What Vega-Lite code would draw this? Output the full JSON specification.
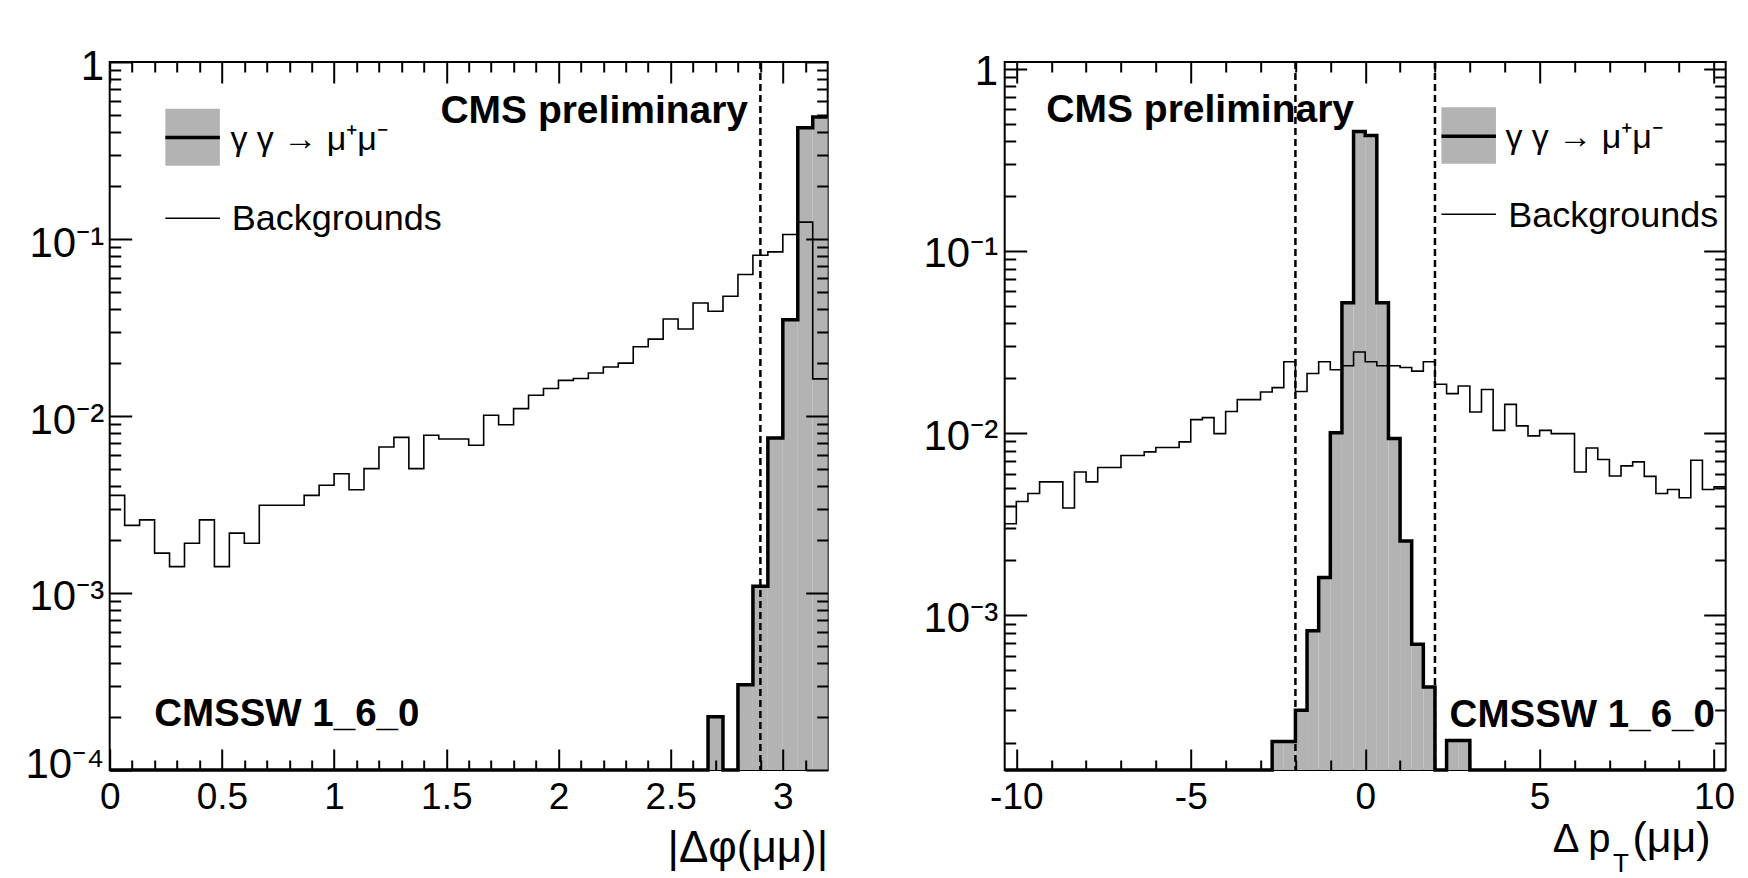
{
  "$schema": "https://vega.github.io/schema/vega-lite/v6.json",
  "background": "white",
  "padding": {"left": 8.7, "top": 44, "right": 10, "bottom": 4},
  "bounds": "flush",
  "spacing": 177,
  "config": {
    "view": {"stroke": "black", "strokeWidth": 2},
    "axis": {"labelFont": "Liberation Sans", "titleFont": "Liberation Sans", "labelColor": "black", "titleColor": "black", "tickColor": "black", "tickWidth": 2, "domain": false, "grid": false},
    "text": {"font": "Liberation Sans"}
  },
  "datasets": {
    "dphi": [
      {"lo": 0, "hi": 0.0667, "sig": 0, "bkg": 0.00356},
      {"lo": 0.0667, "hi": 0.1333, "sig": 0, "bkg": 0.00241},
      {"lo": 0.1333, "hi": 0.2, "sig": 0, "bkg": 0.00259},
      {"lo": 0.2, "hi": 0.2667, "sig": 0, "bkg": 0.00168},
      {"lo": 0.2667, "hi": 0.3333, "sig": 0, "bkg": 0.00141},
      {"lo": 0.3333, "hi": 0.4, "sig": 0, "bkg": 0.00191},
      {"lo": 0.4, "hi": 0.4667, "sig": 0, "bkg": 0.00259},
      {"lo": 0.4667, "hi": 0.5333, "sig": 0, "bkg": 0.00141},
      {"lo": 0.5333, "hi": 0.6, "sig": 0, "bkg": 0.00218},
      {"lo": 0.6, "hi": 0.6667, "sig": 0, "bkg": 0.00191},
      {"lo": 0.6667, "hi": 0.7333, "sig": 0, "bkg": 0.00313},
      {"lo": 0.7333, "hi": 0.8, "sig": 0, "bkg": 0.00313},
      {"lo": 0.8, "hi": 0.8667, "sig": 0, "bkg": 0.00313},
      {"lo": 0.8667, "hi": 0.9333, "sig": 0, "bkg": 0.00356},
      {"lo": 0.9333, "hi": 1, "sig": 0, "bkg": 0.00406},
      {"lo": 1, "hi": 1.0667, "sig": 0, "bkg": 0.00472},
      {"lo": 1.0667, "hi": 1.1333, "sig": 0, "bkg": 0.00383},
      {"lo": 1.1333, "hi": 1.2, "sig": 0, "bkg": 0.00504},
      {"lo": 1.2, "hi": 1.2667, "sig": 0, "bkg": 0.00668},
      {"lo": 1.2667, "hi": 1.3333, "sig": 0, "bkg": 0.00757},
      {"lo": 1.3333, "hi": 1.4, "sig": 0, "bkg": 0.00504},
      {"lo": 1.4, "hi": 1.4667, "sig": 0, "bkg": 0.00778},
      {"lo": 1.4667, "hi": 1.5333, "sig": 0, "bkg": 0.00741},
      {"lo": 1.5333, "hi": 1.6, "sig": 0, "bkg": 0.00741},
      {"lo": 1.6, "hi": 1.6667, "sig": 0, "bkg": 0.00683},
      {"lo": 1.6667, "hi": 1.7333, "sig": 0, "bkg": 0.0101},
      {"lo": 1.7333, "hi": 1.8, "sig": 0, "bkg": 0.00893},
      {"lo": 1.8, "hi": 1.8667, "sig": 0, "bkg": 0.011},
      {"lo": 1.8667, "hi": 1.9333, "sig": 0, "bkg": 0.0131},
      {"lo": 1.9333, "hi": 2, "sig": 0, "bkg": 0.0143},
      {"lo": 2, "hi": 2.0667, "sig": 0, "bkg": 0.0159},
      {"lo": 2.0667, "hi": 2.1333, "sig": 0, "bkg": 0.0163},
      {"lo": 2.1333, "hi": 2.2, "sig": 0, "bkg": 0.0175},
      {"lo": 2.2, "hi": 2.2667, "sig": 0, "bkg": 0.0189},
      {"lo": 2.2667, "hi": 2.3333, "sig": 0, "bkg": 0.0199},
      {"lo": 2.3333, "hi": 2.4, "sig": 0, "bkg": 0.0246},
      {"lo": 2.4, "hi": 2.4667, "sig": 0, "bkg": 0.0272},
      {"lo": 2.4667, "hi": 2.5333, "sig": 0, "bkg": 0.0353},
      {"lo": 2.5333, "hi": 2.6, "sig": 0, "bkg": 0.031},
      {"lo": 2.6, "hi": 2.6667, "sig": 0, "bkg": 0.0435},
      {"lo": 2.6667, "hi": 2.7333, "sig": 0.0002, "bkg": 0.0391},
      {"lo": 2.7333, "hi": 2.8, "sig": 0, "bkg": 0.0475},
      {"lo": 2.8, "hi": 2.8667, "sig": 0.000303, "bkg": 0.063},
      {"lo": 2.8667, "hi": 2.9333, "sig": 0.00109, "bkg": 0.081},
      {"lo": 2.9333, "hi": 3, "sig": 0.00751, "bkg": 0.0846},
      {"lo": 3, "hi": 3.0667, "sig": 0.035, "bkg": 0.106},
      {"lo": 3.0667, "hi": 3.1333, "sig": 0.425, "bkg": 0.1245},
      {"lo": 3.1333, "hi": 3.2, "sig": 0.489, "bkg": 0.0162}
    ],
    "dpt": [
      {"lo": -10.3333, "hi": -10, "sig": 0, "bkg": 0.00318},
      {"lo": -10, "hi": -9.6667, "sig": 0, "bkg": 0.00421},
      {"lo": -9.6667, "hi": -9.3333, "sig": 0, "bkg": 0.00466},
      {"lo": -9.3333, "hi": -9, "sig": 0, "bkg": 0.0054},
      {"lo": -9, "hi": -8.6667, "sig": 0, "bkg": 0.0054},
      {"lo": -8.6667, "hi": -8.3333, "sig": 0, "bkg": 0.00388},
      {"lo": -8.3333, "hi": -8, "sig": 0, "bkg": 0.00612},
      {"lo": -8, "hi": -7.6667, "sig": 0, "bkg": 0.0054},
      {"lo": -7.6667, "hi": -7.3333, "sig": 0, "bkg": 0.00647},
      {"lo": -7.3333, "hi": -7, "sig": 0, "bkg": 0.00647},
      {"lo": -7, "hi": -6.6667, "sig": 0, "bkg": 0.00753},
      {"lo": -6.6667, "hi": -6.3333, "sig": 0, "bkg": 0.00753},
      {"lo": -6.3333, "hi": -6, "sig": 0, "bkg": 0.00789},
      {"lo": -6, "hi": -5.6667, "sig": 0, "bkg": 0.00833},
      {"lo": -5.6667, "hi": -5.3333, "sig": 0, "bkg": 0.00833},
      {"lo": -5.3333, "hi": -5, "sig": 0, "bkg": 0.00895},
      {"lo": -5, "hi": -4.6667, "sig": 0, "bkg": 0.01186},
      {"lo": -4.6667, "hi": -4.3333, "sig": 0, "bkg": 0.01216},
      {"lo": -4.3333, "hi": -4, "sig": 0, "bkg": 0.00994},
      {"lo": -4, "hi": -3.6667, "sig": 0, "bkg": 0.01313},
      {"lo": -3.6667, "hi": -3.3333, "sig": 0, "bkg": 0.01527},
      {"lo": -3.3333, "hi": -3, "sig": 0, "bkg": 0.01527},
      {"lo": -3, "hi": -2.6667, "sig": 0, "bkg": 0.01683},
      {"lo": -2.6667, "hi": -2.3333, "sig": 0.000203, "bkg": 0.01777},
      {"lo": -2.3333, "hi": -2, "sig": 0.000203, "bkg": 0.02467},
      {"lo": -2, "hi": -1.6667, "sig": 0.000301, "bkg": 0.01691},
      {"lo": -1.6667, "hi": -1.3333, "sig": 0.000821, "bkg": 0.02123},
      {"lo": -1.3333, "hi": -1, "sig": 0.00161, "bkg": 0.02467},
      {"lo": -1, "hi": -0.6667, "sig": 0.01006, "bkg": 0.02229},
      {"lo": -0.6667, "hi": -0.3333, "sig": 0.0519, "bkg": 0.02344},
      {"lo": -0.3333, "hi": 0, "sig": 0.453, "bkg": 0.02789},
      {"lo": 0, "hi": 0.3333, "sig": 0.431, "bkg": 0.02467},
      {"lo": 0.3333, "hi": 0.6667, "sig": 0.0519, "bkg": 0.02344},
      {"lo": 0.6667, "hi": 1, "sig": 0.00933, "bkg": 0.02344},
      {"lo": 1, "hi": 1.3333, "sig": 0.00256, "bkg": 0.0229},
      {"lo": 1.3333, "hi": 1.6667, "sig": 0.000693, "bkg": 0.0219},
      {"lo": 1.6667, "hi": 2, "sig": 0.000404, "bkg": 0.02467},
      {"lo": 2, "hi": 2.3333, "sig": 0, "bkg": 0.01853},
      {"lo": 2.3333, "hi": 2.6667, "sig": 0.000205, "bkg": 0.01647},
      {"lo": 2.6667, "hi": 3, "sig": 0.000205, "bkg": 0.01815},
      {"lo": 3, "hi": 3.3333, "sig": 0, "bkg": 0.01306},
      {"lo": 3.3333, "hi": 3.6667, "sig": 0, "bkg": 0.01734},
      {"lo": 3.6667, "hi": 4, "sig": 0, "bkg": 0.01035},
      {"lo": 4, "hi": 4.3333, "sig": 0, "bkg": 0.01438},
      {"lo": 4.3333, "hi": 4.6667, "sig": 0, "bkg": 0.01096},
      {"lo": 4.6667, "hi": 5, "sig": 0, "bkg": 0.00966},
      {"lo": 5, "hi": 5.3333, "sig": 0, "bkg": 0.01035},
      {"lo": 5.3333, "hi": 5.6667, "sig": 0, "bkg": 0.00994},
      {"lo": 5.6667, "hi": 6, "sig": 0, "bkg": 0.00994},
      {"lo": 6, "hi": 6.3333, "sig": 0, "bkg": 0.00612},
      {"lo": 6.3333, "hi": 6.6667, "sig": 0, "bkg": 0.00829},
      {"lo": 6.6667, "hi": 7, "sig": 0, "bkg": 0.00716},
      {"lo": 7, "hi": 7.3333, "sig": 0, "bkg": 0.00582},
      {"lo": 7.3333, "hi": 7.6667, "sig": 0, "bkg": 0.00661},
      {"lo": 7.6667, "hi": 8, "sig": 0, "bkg": 0.00695},
      {"lo": 8, "hi": 8.3333, "sig": 0, "bkg": 0.00579},
      {"lo": 8.3333, "hi": 8.6667, "sig": 0, "bkg": 0.00466},
      {"lo": 8.6667, "hi": 9, "sig": 0, "bkg": 0.0049},
      {"lo": 9, "hi": 9.3333, "sig": 0, "bkg": 0.00442},
      {"lo": 9.3333, "hi": 9.6667, "sig": 0, "bkg": 0.0071},
      {"lo": 9.6667, "hi": 10, "sig": 0, "bkg": 0.0049},
      {"lo": 10, "hi": 10.3333, "sig": 0, "bkg": 0.00507}
    ]
  },
  "hconcat": [
    {
      "width": 718,
      "height": 708,
      "resolve": {"axis": {"x": "independent", "y": "independent"}},
      "layer": [
        {
          "data": {"name": "dphi"},
          "transform": [{"filter": "datum.sig > 0"}],
          "mark": {"type": "rect", "fill": "#b3b3b3"},
          "encoding": {
            "x": {"field": "lo", "type": "quantitative", "scale": {"domain": [0, 3.2], "nice": false, "zero": false},
              "axis": {"orient": "bottom", "values": [0, 0.1, 0.2, 0.3, 0.4, 0.5, 0.6, 0.7, 0.8, 0.9, 1, 1.1, 1.2, 1.3, 1.4, 1.5, 1.6, 1.7, 1.8, 1.9, 2, 2.1, 2.2, 2.3, 2.4, 2.5, 2.6, 2.7, 2.8, 2.9, 3, 3.1],
                "labelExpr": "indexof([0, 0.5, 1, 1.5, 2, 2.5, 3], datum.value) >= 0 ? '' + datum.value : ''",
                "tickSize": {"condition": {"test": "indexof([0, 0.5, 1, 1.5, 2, 2.5, 3], datum.value) >= 0", "value": -21}, "value": -10},
                "labelFontSize": 37, "labelPadding": 31, "labelOverlap": false, "labelFlush": false, "labelBound": false,
                "title": "|Δφ(μμ)|", "titleAnchor": "end", "titleAlign": "right", "titleFontSize": 44, "titleFontWeight": "normal", "titlePadding": 0, "zindex": 1}},
            "x2": {"field": "hi"},
            "y": {"field": "sig", "type": "quantitative", "scale": {"type": "log", "domain": [0.0001, 1], "nice": false, "clamp": true},
              "axis": {"orient": "left", "values": [0.0001, 0.0002, 0.0003, 0.0004, 0.0005, 0.0006, 0.0007, 0.0008, 0.0009, 0.001, 0.002, 0.003, 0.004, 0.005, 0.006, 0.007, 0.008, 0.009, 0.01, 0.02, 0.03, 0.04, 0.05, 0.06, 0.07, 0.08, 0.09, 0.1, 0.2, 0.3, 0.4, 0.5, 0.6, 0.7, 0.8, 0.9, 1],
                "labelExpr": "datum.value == 1 ? '1' : datum.value == 0.1 ? '10⁻¹' : datum.value == 0.01 ? '10⁻²' : datum.value == 0.001 ? '10⁻³' : datum.value == 0.0001 ? '10⁻⁴' : ''",
                "tickSize": {"condition": {"test": "indexof([1, 0.1, 0.01, 0.001, 0.0001], datum.value) >= 0", "value": -22}, "value": -11},
                "labelFontSize": 42, "labelPadding": 28,
                "labelOffset": {"condition": {"test": "datum.value == 0.0001", "value": -5}, "value": 4},
                "labelOverlap": false, "labelFlush": false, "labelBound": false,
                "minExtent": 100, "maxExtent": 100, "title": null, "zindex": 1}},
            "y2": {"datum": 0.0001}
          }
        },
        {
          "data": {"name": "dphi"},
          "transform": [{"fold": ["lo", "hi"], "as": ["edge", "xpos"]}],
          "mark": {"type": "line", "stroke": "black", "strokeWidth": 1.6},
          "encoding": {
            "x": {"field": "xpos", "type": "quantitative",
              "axis": {"orient": "top", "values": [0, 0.1, 0.2, 0.3, 0.4, 0.5, 0.6, 0.7, 0.8, 0.9, 1, 1.1, 1.2, 1.3, 1.4, 1.5, 1.6, 1.7, 1.8, 1.9, 2, 2.1, 2.2, 2.3, 2.4, 2.5, 2.6, 2.7, 2.8, 2.9, 3, 3.1],
                "labels": false, "title": null, "minExtent": 0, "maxExtent": 0, "zindex": 1,
                "tickSize": {"condition": {"test": "indexof([0, 0.5, 1, 1.5, 2, 2.5, 3], datum.value) >= 0", "value": -21}, "value": -10}}},
            "y": {"field": "bkg", "type": "quantitative",
              "axis": {"orient": "right", "values": [0.0001, 0.0002, 0.0003, 0.0004, 0.0005, 0.0006, 0.0007, 0.0008, 0.0009, 0.001, 0.002, 0.003, 0.004, 0.005, 0.006, 0.007, 0.008, 0.009, 0.01, 0.02, 0.03, 0.04, 0.05, 0.06, 0.07, 0.08, 0.09, 0.1, 0.2, 0.3, 0.4, 0.5, 0.6, 0.7, 0.8, 0.9, 1],
                "labels": false, "title": null, "minExtent": 0, "maxExtent": 0, "zindex": 1,
                "tickSize": {"condition": {"test": "indexof([1, 0.1, 0.01, 0.001, 0.0001], datum.value) >= 0", "value": -22}, "value": -11}}},
            "order": [{"field": "xpos", "type": "quantitative"}, {"field": "edge", "type": "nominal"}]
          }
        },
        {
          "data": {"name": "dphi"},
          "transform": [{"fold": ["lo", "hi"], "as": ["edge", "xpos"]}],
          "mark": {"type": "line", "stroke": "black", "strokeWidth": 3.5, "invalid": null},
          "encoding": {
            "x": {"field": "xpos", "type": "quantitative", "axis": null},
            "y": {"field": "sig", "type": "quantitative", "axis": null},
            "order": [{"field": "xpos", "type": "quantitative"}, {"field": "edge", "type": "nominal"}]
          }
        },
        {
          "data": {"values": [{}]},
          "mark": {"type": "rule", "stroke": "black", "strokeWidth": 2.5, "strokeDash": [7, 4]},
          "encoding": {"x": {"datum": 2.9, "type": "quantitative", "axis": null}}
        },
        {
          "data": {"values": [{}]},
          "mark": {"type": "rect", "fill": "#b3b3b3"},
          "encoding": {
            "x": {"datum": 0.248, "type": "quantitative", "axis": null}, "x2": {"datum": 0.491},
            "y": {"datum": 0.544, "type": "quantitative", "axis": null}, "y2": {"datum": 0.259}
          }
        },
        {
          "data": {"values": [{}]},
          "mark": {"type": "rule", "stroke": "black", "strokeWidth": 3.5},
          "encoding": {
            "x": {"datum": 0.248, "type": "quantitative", "axis": null}, "x2": {"datum": 0.491},
            "y": {"datum": 0.375, "type": "quantitative", "axis": null}
          }
        },
        {
          "data": {"values": [{}]},
          "mark": {"type": "rule", "stroke": "black", "strokeWidth": 1.6},
          "encoding": {
            "x": {"datum": 0.248, "type": "quantitative", "axis": null}, "x2": {"datum": 0.491},
            "y": {"datum": 0.131, "type": "quantitative", "axis": null}
          }
        },
        {
          "data": {"values": [{}]},
          "mark": {"type": "text", "text": "γ γ → μ⁺μ⁻", "fontSize": 34, "align": "left", "baseline": "alphabetic", "fill": "black"},
          "encoding": {"x": {"datum": 0.538, "type": "quantitative", "axis": null}, "y": {"datum": 0.318, "type": "quantitative", "axis": null}}
        },
        {
          "data": {"values": [{}]},
          "mark": {"type": "text", "text": "Backgrounds", "fontSize": 36, "align": "left", "baseline": "alphabetic", "fill": "black"},
          "encoding": {"x": {"datum": 0.544, "type": "quantitative", "axis": null}, "y": {"datum": 0.1126, "type": "quantitative", "axis": null}}
        },
        {
          "data": {"values": [{}]},
          "mark": {"type": "text", "text": "CMS preliminary", "fontSize": 39, "fontWeight": "bold", "align": "left", "baseline": "alphabetic", "fill": "black"},
          "encoding": {"x": {"datum": 1.474, "type": "quantitative", "axis": null}, "y": {"datum": 0.452, "type": "quantitative", "axis": null}}
        },
        {
          "data": {"values": [{}]},
          "mark": {"type": "text", "text": "CMSSW 1_6_0", "fontSize": 38.5, "fontWeight": "bold", "align": "left", "baseline": "alphabetic", "fill": "black"},
          "encoding": {"x": {"datum": 0.198, "type": "quantitative", "axis": null}, "y": {"datum": 0.0001766, "type": "quantitative", "axis": null}}
        }
      ]
    },
    {
      "width": 721,
      "height": 708,
      "resolve": {"axis": {"x": "independent", "y": "independent"}},
      "layer": [
        {
          "data": {"name": "dpt"},
          "transform": [{"filter": "datum.sig > 0"}],
          "mark": {"type": "rect", "fill": "#b3b3b3"},
          "encoding": {
            "x": {"field": "lo", "type": "quantitative", "scale": {"domain": [-10.3333, 10.3333], "nice": false, "zero": false},
              "axis": {"orient": "bottom", "values": [-10, -9, -8, -7, -6, -5, -4, -3, -2, -1, 0, 1, 2, 3, 4, 5, 6, 7, 8, 9, 10],
                "labelExpr": "indexof([-10, -5, 0, 5, 10], datum.value) >= 0 ? '' + datum.value : ''",
                "tickSize": {"condition": {"test": "indexof([-10, -5, 0, 5, 10], datum.value) >= 0", "value": -21}, "value": -10},
                "labelFontSize": 37, "labelPadding": 31, "labelOverlap": false, "labelFlush": false, "labelBound": false,
                "title": null, "zindex": 1}},
            "x2": {"field": "hi"},
            "y": {"field": "sig", "type": "quantitative", "scale": {"type": "log", "domain": [0.0001414, 1.09], "nice": false, "clamp": true},
              "axis": {"orient": "left", "values": [0.0002, 0.0003, 0.0004, 0.0005, 0.0006, 0.0007, 0.0008, 0.0009, 0.001, 0.002, 0.003, 0.004, 0.005, 0.006, 0.007, 0.008, 0.009, 0.01, 0.02, 0.03, 0.04, 0.05, 0.06, 0.07, 0.08, 0.09, 0.1, 0.2, 0.3, 0.4, 0.5, 0.6, 0.7, 0.8, 0.9, 1],
                "labelExpr": "datum.value == 1 ? '1' : datum.value == 0.1 ? '10⁻¹' : datum.value == 0.01 ? '10⁻²' : datum.value == 0.001 ? '10⁻³' : ''",
                "tickSize": {"condition": {"test": "indexof([1, 0.1, 0.01, 0.001], datum.value) >= 0", "value": -22}, "value": -11},
                "labelFontSize": 42, "labelPadding": 29, "labelOffset": 3, "labelOverlap": false, "labelFlush": false, "labelBound": false,
                "minExtent": 100, "maxExtent": 100, "title": null, "zindex": 1}},
            "y2": {"datum": 0.0001414}
          }
        },
        {
          "data": {"name": "dpt"},
          "transform": [{"fold": ["lo", "hi"], "as": ["edge", "xpos"]}],
          "mark": {"type": "line", "stroke": "black", "strokeWidth": 1.6},
          "encoding": {
            "x": {"field": "xpos", "type": "quantitative",
              "axis": {"orient": "top", "values": [-10, -9, -8, -7, -6, -5, -4, -3, -2, -1, 0, 1, 2, 3, 4, 5, 6, 7, 8, 9, 10],
                "labels": false, "title": null, "minExtent": 0, "maxExtent": 0, "zindex": 1,
                "tickSize": {"condition": {"test": "indexof([-10, -5, 0, 5, 10], datum.value) >= 0", "value": -21}, "value": -10}}},
            "y": {"field": "bkg", "type": "quantitative",
              "axis": {"orient": "right", "values": [0.0002, 0.0003, 0.0004, 0.0005, 0.0006, 0.0007, 0.0008, 0.0009, 0.001, 0.002, 0.003, 0.004, 0.005, 0.006, 0.007, 0.008, 0.009, 0.01, 0.02, 0.03, 0.04, 0.05, 0.06, 0.07, 0.08, 0.09, 0.1, 0.2, 0.3, 0.4, 0.5, 0.6, 0.7, 0.8, 0.9, 1],
                "labels": false, "title": null, "minExtent": 0, "maxExtent": 0, "zindex": 1,
                "tickSize": {"condition": {"test": "indexof([1, 0.1, 0.01, 0.001], datum.value) >= 0", "value": -22}, "value": -11}}},
            "order": [{"field": "xpos", "type": "quantitative"}, {"field": "edge", "type": "nominal"}]
          }
        },
        {
          "data": {"name": "dpt"},
          "transform": [{"fold": ["lo", "hi"], "as": ["edge", "xpos"]}],
          "mark": {"type": "line", "stroke": "black", "strokeWidth": 3.5, "invalid": null},
          "encoding": {
            "x": {"field": "xpos", "type": "quantitative", "axis": null},
            "y": {"field": "sig", "type": "quantitative", "axis": null},
            "order": [{"field": "xpos", "type": "quantitative"}, {"field": "edge", "type": "nominal"}]
          }
        },
        {
          "data": {"values": [{"cut": -2}, {"cut": 2}]},
          "mark": {"type": "rule", "stroke": "black", "strokeWidth": 2.5, "strokeDash": [7, 4]},
          "encoding": {"x": {"field": "cut", "type": "quantitative", "axis": null}}
        },
        {
          "data": {"values": [{}]},
          "mark": {"type": "rect", "fill": "#b3b3b3"},
          "encoding": {
            "x": {"datum": 2.186, "type": "quantitative", "axis": null}, "x2": {"datum": 3.748},
            "y": {"datum": 0.616, "type": "quantitative", "axis": null}, "y2": {"datum": 0.301}
          }
        },
        {
          "data": {"values": [{}]},
          "mark": {"type": "rule", "stroke": "black", "strokeWidth": 3.5},
          "encoding": {
            "x": {"datum": 2.186, "type": "quantitative", "axis": null}, "x2": {"datum": 3.748},
            "y": {"datum": 0.427, "type": "quantitative", "axis": null}
          }
        },
        {
          "data": {"values": [{}]},
          "mark": {"type": "rule", "stroke": "black", "strokeWidth": 1.6},
          "encoding": {
            "x": {"datum": 2.186, "type": "quantitative", "axis": null}, "x2": {"datum": 3.748},
            "y": {"datum": 0.159, "type": "quantitative", "axis": null}
          }
        },
        {
          "data": {"values": [{}]},
          "mark": {"type": "text", "text": "γ γ → μ⁺μ⁻", "fontSize": 34, "align": "left", "baseline": "alphabetic", "fill": "black"},
          "encoding": {"x": {"datum": 4.02, "type": "quantitative", "axis": null}, "y": {"datum": 0.367, "type": "quantitative", "axis": null}}
        },
        {
          "data": {"values": [{}]},
          "mark": {"type": "text", "text": "Backgrounds", "fontSize": 36, "align": "left", "baseline": "alphabetic", "fill": "black"},
          "encoding": {"x": {"datum": 4.1, "type": "quantitative", "axis": null}, "y": {"datum": 0.1355, "type": "quantitative", "axis": null}}
        },
        {
          "data": {"values": [{}]},
          "mark": {"type": "text", "text": "CMS preliminary", "fontSize": 39, "fontWeight": "bold", "align": "left", "baseline": "alphabetic", "fill": "black"},
          "encoding": {"x": {"datum": -9.139, "type": "quantitative", "axis": null}, "y": {"datum": 0.51, "type": "quantitative", "axis": null}}
        },
        {
          "data": {"values": [{}]},
          "mark": {"type": "text", "text": "CMSSW 1_6_0", "fontSize": 38.5, "fontWeight": "bold", "align": "left", "baseline": "alphabetic", "fill": "black"},
          "encoding": {"x": {"datum": 2.42, "type": "quantitative", "axis": null}, "y": {"datum": 0.000244, "type": "quantitative", "axis": null}}
        },
        {
          "data": {"values": [{}]},
          "mark": {"type": "text", "text": "Δ p", "fontSize": 40, "align": "left", "baseline": "alphabetic", "fill": "black", "dy": 82},
          "encoding": {"x": {"datum": 5.376, "type": "quantitative", "axis": null}, "y": {"datum": 0.0001414, "type": "quantitative", "axis": null}}
        },
        {
          "data": {"values": [{}]},
          "mark": {"type": "text", "text": "T", "fontSize": 26, "align": "left", "baseline": "alphabetic", "fill": "black", "dy": 102},
          "encoding": {"x": {"datum": 7.1, "type": "quantitative", "axis": null}, "y": {"datum": 0.0001414, "type": "quantitative", "axis": null}}
        },
        {
          "data": {"values": [{}]},
          "mark": {"type": "text", "text": "(μμ)", "fontSize": 43, "align": "left", "baseline": "alphabetic", "fill": "black", "dy": 82},
          "encoding": {"x": {"datum": 7.66, "type": "quantitative", "axis": null}, "y": {"datum": 0.0001414, "type": "quantitative", "axis": null}}
        }
      ]
    }
  ]
}
